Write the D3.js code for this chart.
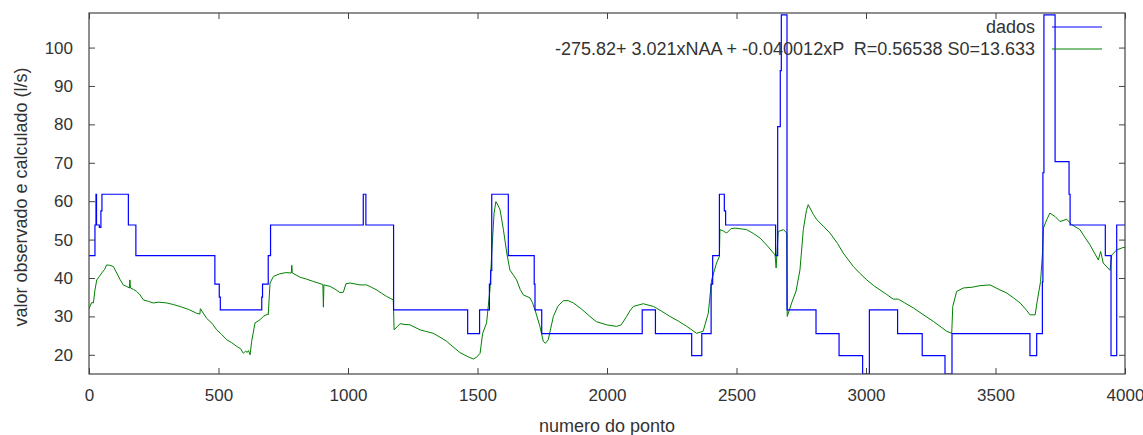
<!DOCTYPE html>
<html>
<head>
<meta charset="utf-8">
<script src="https://cdn.jsdelivr.net/npm/d3@7"></script>
<style>
  html, body { margin: 0; padding: 0; background: #fff; }
  svg { display: block; font-family: "Liberation Sans", Arial, sans-serif; }
</style>
</head>
<body>
<svg id="chart" width="1143" height="435"></svg>
<script>
// observed values (step series), change points along the point index
const obsX = [0, 23, 27, 29, 40, 46, 50, 152, 181, 486, 503, 507, 667, 670, 692, 701, 1059, 1069, 1176,
  1462, 1508, 1546, 1551, 1555, 1619, 1719, 1722, 1748, 2136, 2187, 2327, 2366, 2402, 2408, 2434, 2453, 2458,
  2651, 2659, 2669, 2673, 2695, 2807, 2896, 2987, 3013, 3122, 3217, 3305, 3332, 3633, 3659, 3681, 3683, 3687,
  3730, 3784, 3788, 3924, 3946, 3968, 4000];
const obsY = [45.8, 53.8, 61.8, 53.8, 53.2, 57.5, 61.8, 53.8, 45.8, 38.4, 35.0, 31.7, 35.0, 38.4, 45.8, 53.8, 61.8, 53.8, 31.7,
  25.5, 31.7, 38.4, 42.0, 61.8, 45.8, 38.4, 31.7, 25.5, 31.7, 25.5, 19.8, 25.5, 38.4, 45.8, 61.8, 57.5, 53.8,
  45.8, 79.4, 94.0, 108.5, 31.7, 25.5, 19.8, 15.0, 31.7, 25.5, 19.8, 15.0, 25.5, 19.8, 25.5, 39.0, 67.4, 108.5,
  70.3, 61.8, 53.8, 45.8, 19.8, 53.8, 53.8];

// calculated values (regression)
const calcX = [0, 4, 10, 17, 23, 30, 40, 49, 60, 68, 80, 94, 107, 120, 132, 145, 156, 158, 160, 172, 184, 197, 210, 230, 248, 270, 300,
  325, 351, 385, 416, 428, 430, 454, 475, 493, 512, 532, 550, 570, 585, 596, 605, 610, 616, 622, 628, 641, 660, 673, 690, 692, 699, 712, 737, 760,
  781, 783, 785, 815, 840, 866, 903, 905, 907, 931, 950, 969, 982, 992, 1008, 1046, 1072, 1090, 1111, 1130, 1149, 1175, 1178, 1190, 1201,
  1220, 1239, 1278, 1300, 1329, 1355, 1381, 1405, 1432, 1460, 1484, 1497, 1510, 1520, 1535, 1548, 1555, 1564, 1571, 1580, 1587, 1600,
  1613, 1625, 1640, 1651, 1665, 1677, 1703, 1712, 1722, 1741, 1754, 1762, 1773, 1793, 1810, 1831, 1850, 1870, 1900, 1934, 1950, 1960, 1999,
  2037, 2055, 2076, 2090, 2102, 2140, 2179, 2210, 2243, 2275, 2308, 2346, 2371, 2391, 2404, 2423, 2434, 2436, 2450, 2462, 2478, 2494, 2539,
  2565, 2591, 2620, 2649, 2653, 2661, 2681, 2694, 2696, 2713, 2730, 2745, 2758, 2770, 2777, 2797, 2810, 2835, 2861, 2890, 2912, 2951, 2975,
  3003, 3030, 3054, 3080, 3105, 3125, 3150, 3183, 3220, 3260, 3290, 3312, 3331, 3335, 3350, 3376, 3410, 3440, 3479, 3517, 3543, 3570, 3595,
  3620, 3633, 3653, 3661, 3674, 3681, 3685, 3698, 3710, 3730, 3749, 3775, 3794, 3826, 3845, 3865, 3897, 3906, 3916, 3942, 3949, 3968, 3991, 4000];
const calcY = [32.0, 32.6, 33.6, 33.5, 36.9, 39.5, 40.4, 41.3, 42.2, 43.4, 43.3, 43.0, 41.3, 39.6, 38.2, 37.8, 37.4, 39.5, 37.4, 37.0, 36.5, 35.6, 34.3, 33.9, 33.5, 33.7, 33.5,
  33.1, 32.6, 31.8, 30.8, 30.6, 32.0, 29.5, 28.2, 26.5, 25.3, 23.9, 23.2, 22.2, 21.6, 20.4, 21.0, 20.6, 21.1, 20.0, 23.5, 28.3, 29.1, 30.0, 30.6, 30.4, 38.7, 40.4, 41.1, 41.4,
  41.3, 43.3, 41.3, 40.2, 39.7, 39.1, 38.3, 32.4, 38.2, 37.8, 37.1, 36.2, 36.3, 38.5, 38.7, 38.2, 38.2, 37.6, 36.9, 36.0, 35.2, 34.3, 26.5, 27.3, 28.1,
  27.9, 27.8, 26.5, 26.1, 25.6, 24.6, 23.5, 22.1, 20.6, 19.6, 18.9, 19.4, 20.4, 25.6, 28.3, 36.9, 46.5, 56.9, 59.9, 58.8, 57.8, 52.6,
  46.5, 42.1, 40.6, 39.5, 37.0, 35.6, 34.8, 33.6, 31.7, 27.4, 23.5, 23.0, 23.9, 30.0, 32.6, 34.1, 34.1, 33.5, 32.0, 30.0, 29.1, 28.6, 27.8,
  27.4, 27.8, 30.0, 31.6, 32.6, 33.3, 32.6, 31.4, 30.0, 28.8, 27.4, 25.6, 26.1, 30.8, 39.5, 43.9, 45.6, 52.6, 52.2, 51.7, 52.8, 53.0, 52.6,
  51.6, 50.4, 48.3, 46.0, 42.6, 52.1, 52.6, 51.7, 30.0, 33.5, 36.6, 42.1, 52.6, 57.6, 59.1, 56.5, 55.2, 53.5, 51.7, 49.0, 46.5, 43.0, 41.3,
  39.5, 38.0, 36.9, 35.7, 34.5, 34.5, 33.5, 32.2, 30.5, 28.7, 27.2, 26.1, 25.6, 32.6, 36.5, 37.4, 37.6, 38.0, 38.2, 36.9, 36.1, 34.8, 33.5,
  31.6, 30.4, 30.4, 33.9, 39.1, 46.0, 53.0, 55.2, 56.9, 56.0, 54.7, 55.3, 53.9, 52.6, 50.6, 48.6, 44.7, 46.9, 43.9, 42.0, 46.0, 47.3, 47.9, 48.0];

const xTicks = [0, 500, 1000, 1500, 2000, 2500, 3000, 3500, 4000];
const yTicks = [20, 30, 40, 50, 60, 70, 80, 90, 100];
const legendLabels = ['dados', '-275.82+ 3.021xNAA + -0.040012xP  R=0.56538 S0=13.633'];

const W = 1143, H = 435;
const margin = { top: 13, right: 18, bottom: 61, left: 89 };
const innerW = W - margin.left - margin.right;
const innerH = H - margin.top - margin.bottom;

const svg = d3.select('#chart');
const g = svg.append('g').attr('transform', `translate(${margin.left},${margin.top})`);

const x = d3.scaleLinear().domain([0, 4000]).range([0, innerW]);
const y = d3.scaleLinear().domain([15, 109]).range([innerH, 0]);

const textColor = '#333';
const axisColor = '#444';
const TICK = 6;

// clip so the step line can sit on the frame
svg.append('defs').append('clipPath').attr('id', 'clip')
  .append('rect').attr('width', innerW).attr('height', innerH);

const obs = obsX.map((v, i) => [v, obsY[i]]);
const calc = calcX.map((v, i) => [v, calcY[i]]);

const plot = g.append('g').attr('clip-path', 'url(#clip)');
plot.append('path').datum(calc)
  .attr('fill', 'none').attr('stroke', '#008000').attr('stroke-width', 1)
  .attr('d', d3.line().x(d => x(d[0])).y(d => y(d[1])));
plot.append('path').datum(obs)
  .attr('fill', 'none').attr('stroke', '#0000ff').attr('stroke-width', 1.2)
  .attr('d', d3.line().curve(d3.curveStepAfter).x(d => x(d[0])).y(d => y(d[1])));

// axes, gnuplot style: inward ticks mirrored on all sides
const axB = g.append('g').attr('transform', `translate(0,${innerH})`)
  .call(d3.axisBottom(x).tickValues(xTicks).tickSize(-TICK).tickPadding(15).tickFormat(d3.format('d')));
const axT = g.append('g')
  .call(d3.axisTop(x).tickValues(xTicks).tickSize(-TICK).tickFormat(''));
const axL = g.append('g')
  .call(d3.axisLeft(y).tickValues(yTicks).tickSize(-TICK).tickPadding(16).tickFormat(d3.format('d')));
const axR = g.append('g').attr('transform', `translate(${innerW},0)`)
  .call(d3.axisRight(y).tickValues(yTicks).tickSize(-TICK).tickFormat(''));

[axB, axT, axL, axR].forEach(a => {
  a.select('.domain').remove();
  a.selectAll('.tick line').attr('stroke', axisColor);
  a.selectAll('.tick text').attr('fill', textColor).attr('font-size', 17).attr('font-family', null);
});

g.append('rect').attr('width', innerW).attr('height', innerH)
  .attr('fill', 'none').attr('stroke', axisColor).attr('stroke-width', 1.2);

// legend
const legend = g.append('g');
const legendColors = ['#0000ff', '#008000'];
legendLabels.forEach((lab, i) => {
  const ly = 14 + i * 22;
  legend.append('text').attr('x', 946).attr('y', ly).attr('dy', '0.35em')
    .attr('text-anchor', 'end').attr('font-size', 18).attr('fill', textColor)
    .style('white-space', 'pre').text(lab);
  legend.append('line').attr('x1', 963).attr('x2', 1013).attr('y1', ly).attr('y2', ly)
    .attr('stroke', legendColors[i]).attr('stroke-width', i === 0 ? 1.2 : 1);
});

// axis titles
svg.append('text').attr('x', margin.left + innerW / 2).attr('y', 432)
  .attr('text-anchor', 'middle').attr('font-size', 18).attr('fill', textColor).text('numero do ponto');
svg.append('text').attr('transform', 'translate(27,197) rotate(-90)')
  .attr('text-anchor', 'middle').attr('font-size', 18).attr('fill', textColor).text('valor observado e calculado (l/s)');
</script>
</body>
</html>
